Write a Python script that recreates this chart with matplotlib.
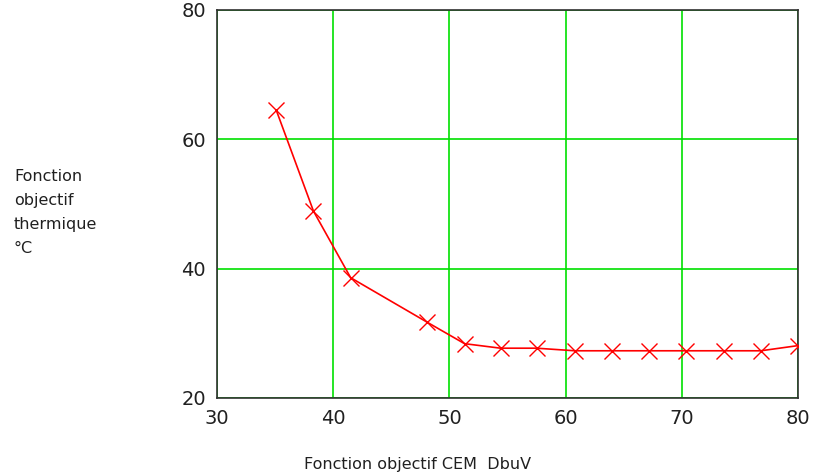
import numpy as np
import matplotlib
matplotlib.use("Agg")
from matplotlib import pyplot as plt

# values
cem = [35.1, 38.3, 41.5, 48.1, 51.3, 54.4, 57.5, 60.8, 64.0, 67.2, 70.4, 73.6, 76.8, 80.0]
thermique = [64.5, 48.9, 38.6, 31.7, 28.4, 27.7, 27.7, 27.3, 27.3, 27.3, 27.3, 27.3, 27.3, 28.1]
xticks = [30, 40, 50, 60, 70, 80]
yticks = [20, 40, 60, 80]

fig = plt.figure(figsize=(8.18, 4.76), dpi=100)
ax = fig.add_axes([0.2653, 0.1639, 0.7103, 0.8151])

ax.plot(cem, thermique, color="#ff0000", lw=1.2, marker="x", ms=11, mew=1, zorder=3)

ax.set_xlim(30, 80)
ax.set_ylim(20, 80)
ax.set_xticks(xticks)
ax.set_yticks(yticks)
ax.tick_params(length=0, labelsize=14, pad=8, colors="#202020")
ax.grid(True, color="#00e000", lw=1.2)
for s in ax.spines.values():
    s.set_color("#303030")
    s.set_linewidth(1.2)

fig.text(0.017, 0.645, "Fonction\nobjectif\nthermique\n°C", fontsize=11.5,
         va="top", ha="left", linespacing=1.75, color="#202020")
fig.text(0.511, 0.008, "Fonction objectif CEM  DbuV", fontsize=11.5,
         ha="center", va="bottom", color="#202020")

fig.savefig("out.png", dpi=100)
